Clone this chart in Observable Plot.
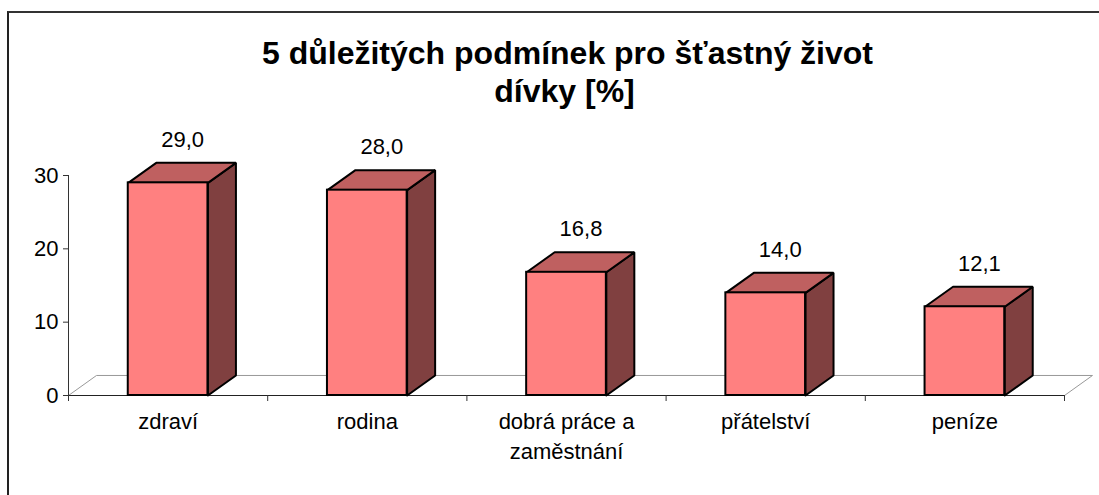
<!DOCTYPE html>
<html><head><meta charset="utf-8">
<script src="https://cdn.jsdelivr.net/npm/d3@7"></script>
<script src="https://cdn.jsdelivr.net/npm/@observablehq/plot@0.6"></script>
<style>
html,body{margin:0;padding:0;background:#fff;overflow:hidden}
#wrap{position:relative;width:1099px;height:495px}
#edge{position:absolute;left:7px;top:11px;right:0;bottom:0;border-top:2px solid #333;border-left:2px solid #222}
svg{position:absolute;left:0;top:0;background:transparent!important}
</style></head><body><div id="wrap"><div id="edge"></div></div>
<script>
const titleLines = ["5 důležitých podmínek pro šťastný život", "dívky [%]"];
const categories = ["zdraví", "rodina", "dobrá práce a\nzaměstnání", "přátelství", "peníze"];
const values = [29.0, 28.0, 16.8, 14.0, 12.1];
const valueLabels = ["29,0", "28,0", "16,8", "14,0", "12,1"];
const yTicks = [0, 10, 20, 30];

// Depth of the 3D projection, in data units of the two scales
const depthX = 0.1405, depthY = 2.73, halfBar = 0.2;

const rows = categories.map((c, i) => ({c, i, v: values[i], label: valueLabels[i], x: i + 0.5}));
const poly = (id, pts) => [...pts, pts[0]].map(([x, y]) => ({id, x, y}));
const side = rows.flatMap(r => poly(r.i, [
  [r.x + halfBar, 0], [r.x + halfBar + depthX, depthY],
  [r.x + halfBar + depthX, r.v + depthY], [r.x + halfBar, r.v]]));
const top_ = rows.flatMap(r => poly(r.i, [
  [r.x - halfBar, r.v], [r.x - halfBar + depthX, r.v + depthY],
  [r.x + halfBar + depthX, r.v + depthY], [r.x + halfBar, r.v]]));
const floor = poly("f", [[0, 0], [depthX, depthY], [5 + depthX, depthY], [5, 0]]);

const chart = Plot.plot({
  width: 1099, height: 495,
  marginLeft: 68, marginRight: 35, marginTop: 175, marginBottom: 100,
  style: {fontFamily: "'Liberation Sans', Arial, sans-serif", color: "#000", background: "transparent"},
  x: {type: "linear", domain: [0, 5], axis: null},
  y: {domain: [0, 30], axis: null},
  marks: [
    Plot.line(floor, {x: "x", y: "y", z: "id", stroke: "#999", strokeWidth: 1, curve: "linear"}),
    Plot.ruleX([0], {y1: 0, y2: 30, stroke: "#333", strokeWidth: 1}),
    Plot.ruleY([0], {x1: 0, x2: 5, stroke: "#222", strokeWidth: 1}),
    Plot.axisY({ticks: yTicks, tickSize: 5, tickPadding: 5, fontSize: 22, stroke: "#333", color: "#000", label: null}),
    Plot.axisX({ticks: d3.range(0, 6), tickSize: 6, tickFormat: () => "", stroke: "#333", label: null}),
    Plot.line(side, {x: "x", y: "y", z: "id", fill: "#804040", stroke: "#000", strokeWidth: 2, strokeLinejoin: "miter", curve: "linear"}),
    Plot.line(top_, {x: "x", y: "y", z: "id", fill: "#BF6060", stroke: "#000", strokeWidth: 2, strokeLinejoin: "miter", curve: "linear"}),
    Plot.rectY(rows, {x1: r => r.x - halfBar, x2: r => r.x + halfBar, y1: 0, y2: "v", fill: "#FF8080", stroke: "#000", strokeWidth: 2}),
    Plot.text(rows, {x: "x", y: "v", text: "label", dx: 14.5, dy: -43, fontSize: 22, fill: "#000"}),
    Plot.text(rows, {x: "x", y: 0, text: "c", dy: 12, lineAnchor: "top", lineHeight: 1.36, fontSize: 22, fill: "#000"}),
    Plot.text([titleLines[0]], {frameAnchor: "top", text: d => d, dx: 1, dy: -134.5, fontSize: 32, fontWeight: "bold", fill: "#000"}),
    Plot.text([titleLines[1]], {frameAnchor: "top", text: d => d, dx: -2, dy: -96, fontSize: 32, fontWeight: "bold", fill: "#000"})
  ]
});
document.getElementById("wrap").appendChild(chart);
</script></body></html>
